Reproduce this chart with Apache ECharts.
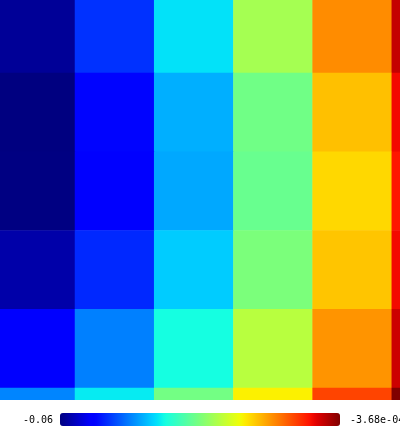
<!DOCTYPE html>
<html>
<head>
<meta charset="utf-8">
<script src="https://cdn.jsdelivr.net/npm/echarts@6/dist/echarts.min.js"></script>
<style>
  html, body { margin: 0; padding: 0; background: #fff; }
  #chart { width: 400px; height: 440px; }
</style>
</head>
<body>
<div id="chart"></div>
<script>
// columns / rows of the visible part of the field
const colNames = ['c0', 'c1', 'c2', 'c3', 'c4', 'c5'];
const rowNames = ['r0', 'r1', 'r2', 'r3', 'r4', 'r5'];

// cell values, one array per row (top to bottom)
const row0 = [-0.0588, -0.0497, -0.0393, -0.0272, -0.0146, -0.0039];
const row1 = [-0.0600, -0.0524, -0.0423, -0.0310, -0.0179, -0.0063];
const row2 = [-0.0599, -0.0528, -0.0427, -0.0316, -0.0194, -0.0072];
const row3 = [-0.0579, -0.0502, -0.0406, -0.0302, -0.0182, -0.0063];
const row4 = [-0.0529, -0.0451, -0.0376, -0.0258, -0.0151, -0.0043];
const row5 = [-0.0448, -0.0388, -0.0308, -0.0209, -0.0100, -0.000368];

const rows = [row0, row1, row2, row3, row4, row5];

// colorbar range and tick labels
const vMin = -0.06;
const vMax = -0.000368;
const minLabel = '-0.06';
const maxLabel = '-3.68e-04';

// jet colormap, sampled for the visualMap
function seg(pts, t) {
  for (let i = 1; i < pts.length; i++) {
    if (t <= pts[i][0]) {
      const a = pts[i - 1], b = pts[i];
      return a[1] + (b[1] - a[1]) * (t - a[0]) / (b[0] - a[0]);
    }
  }
  return pts[pts.length - 1][1];
}
function jet(t) {
  const r = seg([[0, 0], [0.35, 0], [0.66, 1], [0.89, 1], [1, 0.5]], t);
  const g = seg([[0, 0], [0.125, 0], [0.375, 1], [0.64, 1], [0.91, 0], [1, 0]], t);
  const b = seg([[0, 0.5], [0.11, 1], [0.34, 1], [0.65, 0], [1, 0]], t);
  const h = v => Math.round(v * 255).toString(16).padStart(2, '0');
  return '#' + h(r) + h(g) + h(b);
}
const jetColors = [];
for (let i = 0; i <= 64; i++) jetColors.push(jet(i / 64));

const data = [];
rows.forEach((row, y) => {
  row.forEach((v, x) => data.push([x, y, v]));
});

const chart = echarts.init(document.getElementById('chart'));
chart.setOption({
  backgroundColor: '#fff',
  animation: false,
  grid: { left: -4.2, top: -5.75, width: 475.2, height: 472.5, outerBoundsMode: 'none' },
  xAxis: { type: 'category', data: colNames, show: false },
  yAxis: { type: 'category', data: rowNames, inverse: true, show: false },
  visualMap: {
    type: 'continuous',
    min: vMin,
    max: vMax,
    orient: 'horizontal',
    calculable: false,
    left: 45,
    top: 398,
    itemWidth: 13,
    itemHeight: 280,
    text: null,
    showLabel: false,
    z: 60,
    inRange: { color: jetColors }
  },
  graphic: [
    { type: 'rect', left: 0, top: 400, shape: { width: 400, height: 40 }, style: { fill: '#fff' }, z: 50 },
    { type: 'text', x: 53, y: 420, z: 60,
      style: { text: minLabel, font: '10px "DejaVu Sans Mono"', fill: '#000', align: 'right', verticalAlign: 'middle' } },
    { type: 'text', x: 350, y: 420, z: 60,
      style: { text: maxLabel, font: '10px "DejaVu Sans Mono"', fill: '#000', align: 'left', verticalAlign: 'middle' } }
  ],
  series: [{
    type: 'heatmap',
    data: data,
    itemStyle: { borderWidth: 0 },
    emphasis: { disabled: true }
  }]
});
</script>
</body>
</html>
